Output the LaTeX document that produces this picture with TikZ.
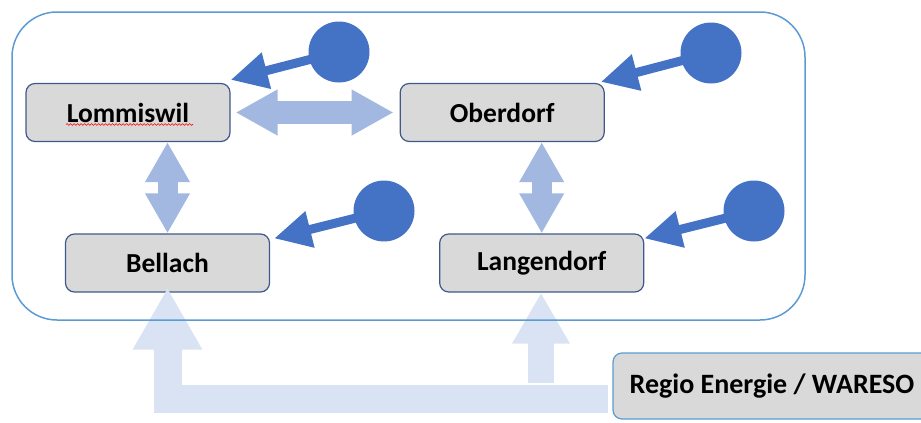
\documentclass[tikz,border=0pt]{standalone}
\usepackage{fontspec}
\setmainfont{Carlito}
\usetikzlibrary{arrows.meta,positioning,decorations.pathmorphing}
\definecolor{rahmenblau}{HTML}{5B9BD5}
\definecolor{kastenrand}{HTML}{41598A}
\definecolor{kastengrau}{HTML}{D9D9D9}
\definecolor{punktblau}{HTML}{4472C4}
\definecolor{pfeilblau}{HTML}{A2B8E1}
\definecolor{zufuhrblau}{HTML}{DAE3F3}
\tikzset{
    %Define style for the boxes
    ort/.style={
           rectangle,
           rounded corners=9pt,
           draw=kastenrand, line width=1.2pt,
           fill=kastengrau,
           minimum width=204pt,
           minimum height=58pt,
           font=\fontsize{27.5}{32}\selectfont\bfseries},
    % Define style for the dots
    punkt/.style={
           circle,
           fill=punktblau,
           minimum size=61pt,
           inner sep=0pt},
    % Define arrow styles
    zeiger/.style={
           -{Triangle[length=37pt,width=35pt]},
           draw=punktblau,
           line width=9pt},
    querpfeil/.style={
           {Triangle[length=42pt,width=43pt]}-{Triangle[length=42pt,width=43pt]},
           draw=pfeilblau,
           line width=23pt},
    hochpfeil/.style={
           {Triangle[length=40pt,width=42pt]}-{Triangle[length=40pt,width=42pt]},
           draw=pfeilblau,
           line width=20pt},
    zufuhr/.style={
           -{Triangle[length=62pt,width=65pt]},
           draw=zufuhrblau,
           line join=miter,
           line width=28pt}
}

\begin{document}
\begin{tikzpicture}[x=1pt, y=-1pt, node distance=169pt]
\useasboundingbox (0,0) rectangle (921,423);

\node[ort] (lommiswil) at (128,112.5) {Lommiswil};
\node[ort, right=of lommiswil] (oberdorf) {Oberdorf};
\node[ort] (bellach) at (167.5,263) {Bellach};
\node[ort, right=of bellach] (langendorf) {Langendorf};
\node[ort, draw=rahmenblau, font=\fontsize{28}{32}\selectfont\bfseries,
      minimum width=318pt, minimum height=66pt] (regio) at (772,386) {Regio Energie / WARESO};

% spell check underline
\draw[red, line width=0.6pt, decorate, decoration={snake, amplitude=0.9pt, segment length=3.5pt}]
    ([xshift=-62pt,yshift=-12pt]lommiswil.center) -- ([xshift=65pt,yshift=-12pt]lommiswil.center);

\node[punkt] (p1) at (339,52) {};
\node[punkt] (p2) at (711,53) {};
\node[punkt] (p3) at (384,211) {};
\node[punkt] (p4) at (754,211) {};

\draw[zeiger] (p1.center) -- ([yshift=3pt]lommiswil.north east);
\draw[zeiger] (p2.center) -- ([xshift=-4pt,yshift=1pt]oberdorf.north east);
\draw[zeiger] (p3.center) -- ([xshift=4pt,yshift=-5pt]bellach.north east);
\draw[zeiger] (p4.center) -- ([yshift=-5pt]langendorf.north east);

\draw[querpfeil, shorten <=5pt, shorten >=6pt] (lommiswil.east) -- (oberdorf.west);
\draw[hochpfeil] (lommiswil.south -| bellach.north) -- (bellach.north);
\draw[hochpfeil] (oberdorf.south -| langendorf.north) -- (langendorf.north);

\coordinate (quelle) at (608,398.5);
\coordinate (abzweig) at (541,383);
\draw[zufuhr, shorten >=-5pt] (quelle) -| (bellach.south);
\draw[zufuhr, line width=26pt, -{Triangle[length=51pt,width=54pt]}] (abzweig) -- (abzweig |- langendorf.south);

\draw[rahmenblau, line width=1.5pt, rounded corners=45pt] (12,12) rectangle (805,320);
\end{tikzpicture}
\end{document}
